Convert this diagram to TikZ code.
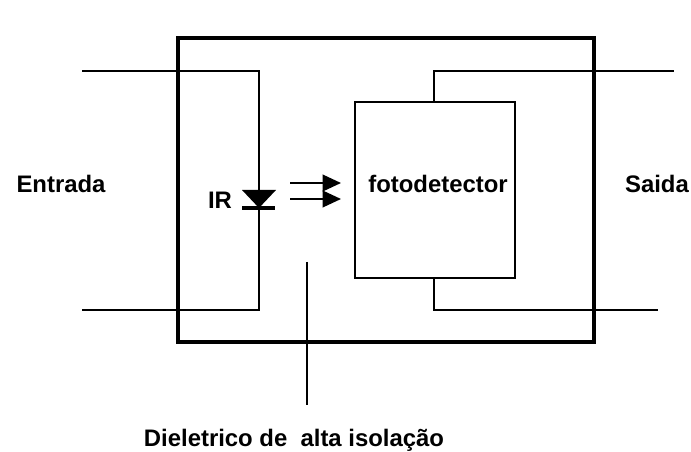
\documentclass[tikz,border=0pt]{standalone}
\usepackage{fontspec}
\setmainfont{Liberation Sans}
\usetikzlibrary{arrows.meta}

\begin{document}
\begin{tikzpicture}[x=0.02cm,y=0.02cm]
\tikzstyle{every node}+=[inner sep=0pt]
\tikzstyle{wire}=[black,line width=1.15pt]
\tikzstyle{lbl}=[font=\fontsize{13.6}{15}\selectfont\bfseries]
\useasboundingbox (0,-452) rectangle (691,0);
\node [draw,black,line width=1.9pt,minimum width=8.32cm,minimum height=6.08cm] (case) at (386,-190) {};
\node [draw,black,line width=1pt,minimum width=3.2cm,minimum height=3.52cm] (det) at (435,-190) {};
\node [lbl] (detlabel) at (438,-184) {fotodetector};
\node [lbl] (in) at (61,-184) {Entrada};
\node [lbl] (out) at (657,-184) {Saida};
\node [lbl] (ir) at (220,-200) {IR};
\node [lbl] (diel) at (294,-440) {Dieletrico de\ \ alta isolação};
% diode
\coordinate (dtl) at (242,-190);
\coordinate (dtr) at (276,-190);
\coordinate (dtip) at (259,-208);
\coordinate (dbl) at (242,-208);
\coordinate (dbr) at (275,-208);
\fill [black] (dtl) -- (dtr) -- (dtip) -- cycle;
\draw [black,line width=2.3pt] (dbl) -- (dbr);
% input wires
\coordinate (a1) at (82,-71);
\coordinate (a2) at (259,-71);
\coordinate (a3) at (259,-190);
\coordinate (b1) at (82,-310);
\coordinate (b2) at (259,-310);
\coordinate (b3) at (259,-208);
\draw [wire] (a1) -- (a2) -- (a3);
\draw [wire] (b1) -- (b2) -- (b3);
% output wires
\coordinate (c1) at (434,-102);
\coordinate (c2) at (434,-71);
\coordinate (c3) at (674,-71);
\coordinate (d1) at (434,-278);
\coordinate (d2) at (434,-310);
\coordinate (d3) at (658,-310);
\draw [wire] (c1) -- (c2) -- (c3);
\draw [wire] (d1) -- (d2) -- (d3);
% light arrows
\coordinate (e1) at (290,-183);
\coordinate (e2) at (341,-183);
\coordinate (f1) at (290,-199);
\coordinate (f2) at (341,-199);
\draw [wire,-{Triangle[length=10.5pt,width=9.5pt]}] (e1) -- (e2);
\draw [wire,-{Triangle[length=10.5pt,width=9.5pt]}] (f1) -- (f2);
% leader
\coordinate (g1) at (307,-262);
\coordinate (g2) at (307,-405);
\draw [wire] (g1) -- (g2);
\end{tikzpicture}
\end{document}
